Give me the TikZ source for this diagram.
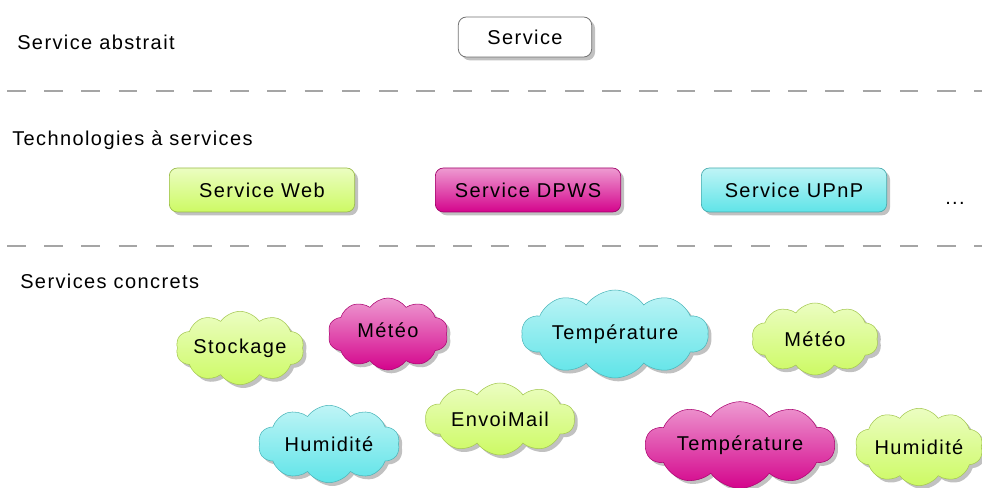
\documentclass[tikz,border=0pt]{standalone}
\usepackage{fontspec}
\setmainfont{Liberation Sans}[LetterSpace=7]
\usetikzlibrary{shapes.symbols,shadows}
\definecolor{limec}{RGB}{205,250,100}
\definecolor{magc}{RGB}{212,4,140}
\definecolor{cync}{RGB}{95,228,232}
\definecolor{dashgray}{RGB}{165,165,165}
\begin{document}
\begin{tikzpicture}[x=0.75pt,y=-0.75pt,
  font=\fontsize{15}{18}\selectfont,
  lbl/.style={anchor=west, inner sep=0pt},
  shad/.style={drop shadow={shadow xshift=2.5pt, shadow yshift=-2.5pt, fill=black!35, opacity=0.7}},
  btn/.style={rounded corners=6pt, draw=#1!75!black, line width=0.5pt,
    top color=#1!40!white, middle color=#1, bottom color=#1,
    minimum height=33pt, minimum width=139pt, inner sep=0pt, shad},
  cld/.style={cloud, cloud puffs=10, cloud puff arc=110, cloud ignores aspect,
    draw=#1!80!black, line width=0.4pt,
    top color=#1!40!white, middle color=#1, bottom color=#1,
    inner sep=0pt, shad},
  sep/.style={dashgray, line width=1.3pt, dash pattern=on 13.9pt off 14pt}
]
\useasboundingbox (0,0) rectangle (982,488);

% labels
\node[lbl] (abs) at (17,42) {Service abstrait};
\node[lbl] (tech) at (12,140) {Technologies à services};
\node[lbl] (conc) at (20,281) {Services concrets};

% abstract service
\node[rounded corners=6pt, draw=black!55, fill=white, line width=0.6pt,
  minimum width=100pt, minimum height=30pt, shad] (srv) at (525,37) {Service};

% separators
\coordinate (s1a) at (7,91); \coordinate (s1b) at (982,91);
\coordinate (s2a) at (7,246); \coordinate (s2b) at (982,246);
\draw[sep] (s1a) -- (s1b);
\draw[sep] (s2a) -- (s2b);

% technologies
\node[btn=limec] (web) at (262,190) {Service Web};
\node[btn=magc] (dpws) at (528,190) {Service DPWS};
\node[btn=cync] (upnp) at (794,190) {Service UPnP};
\node[inner sep=0pt] (dots) at (955,203) {...};

% concrete services
\node[cld=limec, minimum width=96pt, minimum height=55pt,
  label={[name=stockt]center:Stockage}] (stock) at (240,348) {};
\node[cld=magc, minimum width=90pt, minimum height=54pt,
  label={[name=meteo1t,yshift=3pt]center:Météo}] (meteo1) at (388,334) {};
\node[cld=cync, minimum width=140pt, minimum height=66pt,
  label={[name=temp1t]center:Température}] (temp1) at (615,334) {};
\node[cld=limec, minimum width=95pt, minimum height=54pt,
  label={[name=meteo2t]center:Météo}] (meteo2) at (815,339) {};
\node[cld=cync, minimum width=106pt, minimum height=58pt,
  label={[name=hum1t]center:Humidité}] (hum1) at (329,444) {};
\node[cld=limec, minimum width=112pt, minimum height=54pt,
  label={[name=mailt]center:EnvoiMail}] (mail) at (500,419) {};
\node[cld=magc, minimum width=142pt, minimum height=65pt,
  label={[name=temp2t]center:Température}] (temp2) at (740,445) {};
\node[cld=limec, minimum width=96pt, minimum height=58pt,
  label={[name=hum2t]center:Humidité}] (hum2) at (919,447) {};
\end{tikzpicture}
\end{document}
